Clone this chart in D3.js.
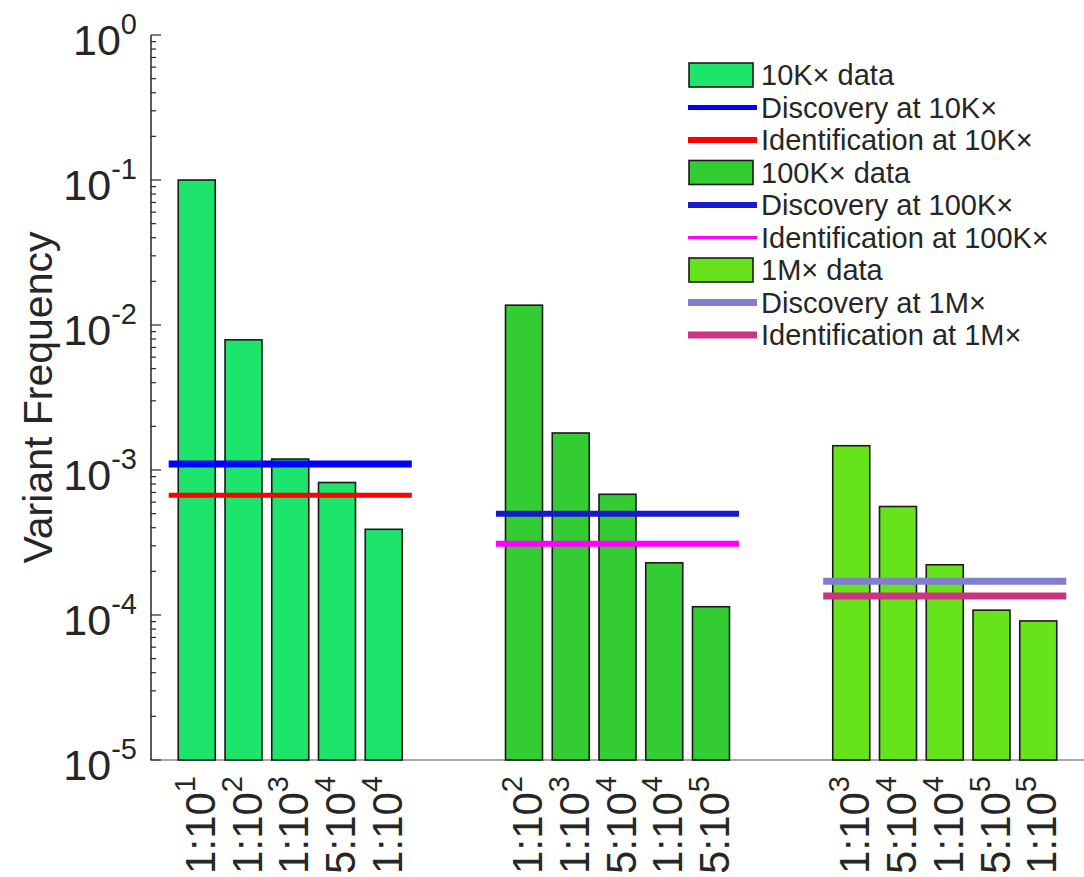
<!DOCTYPE html>
<html>
<head>
<meta charset="utf-8">
<script src="https://cdn.jsdelivr.net/npm/d3@7"></script>
<style>
  body { margin: 0; background: #fff; }
  svg text { font-family: "Liberation Sans", Arial, Helvetica, sans-serif; fill: #262626; }
</style>
</head>
<body>
<svg id="chart" width="1084" height="877"></svg>
<script>
// coverage groups
const groups = ["10K\u00d7", "100K\u00d7", "1M\u00d7"];

// dilution tick labels per group, as [mantissa part, exponent]
const dilutions10K = [["1:10", "1"], ["1:10", "2"], ["1:10", "3"], ["5:10", "4"], ["1:10", "4"]];
const dilutions100K = [["1:10", "2"], ["1:10", "3"], ["5:10", "4"], ["1:10", "4"], ["5:10", "5"]];
const dilutions1M = [["1:10", "3"], ["5:10", "4"], ["1:10", "4"], ["5:10", "5"], ["1:10", "5"]];

// observed variant frequency per dilution
const freq10K = [0.1, 0.0079, 0.00119, 0.00082, 0.00039];
const freq100K = [0.0137, 0.0018, 0.00068, 0.000229, 0.000114];
const freq1M = [0.00147, 0.00056, 0.000222, 0.000108, 0.000091];

// detection thresholds per group
const discovery = [0.0011, 0.0005, 0.000171];
const identification = [0.00067, 0.00031, 0.000135];

const yTickExps = ["0", "-1", "-2", "-3", "-4", "-5"];

const barColors = ["#1de46a", "#33cc33", "#66e31a"];
const discColors = ["#0000ff", "#1a1acc", "#7f7fcc"];
const identColors = ["#ff0000", "#ff00ff", "#cc3380"];

const svg = d3.select("#chart");

const y = d3.scaleLog().domain([1e-5, 1]).range([760, 35]);
// bar slots: 5 bars per group, 2 empty slots between groups
const x = d3.scaleLinear().domain([-1, 19]).range([150, 150 + 20 * 46.75]);
const barW = 37;

const allFreq = [freq10K, freq100K, freq1M];
const allDil = [dilutions10K, dilutions100K, dilutions1M];

const bars = [];
allFreq.forEach((arr, g) => arr.forEach((v, i) => bars.push({ g, i, pos: g * 7 + i, v, label: allDil[g][i] })));

// x axis baseline
svg.append("line")
  .attr("x1", x(-1)).attr("x2", 1084)
  .attr("y1", y(1e-5)).attr("y2", y(1e-5))
  .attr("stroke", "#8c8c8c").attr("stroke-width", 1.5);

// bars
svg.selectAll("rect.bar")
  .data(bars)
  .join("rect")
    .attr("class", "bar")
    .attr("x", d => x(d.pos) - barW / 2)
    .attr("width", barW)
    .attr("y", d => y(d.v))
    .attr("height", d => y(1e-5) - y(d.v))
    .attr("fill", d => barColors[d.g])
    .attr("stroke", "#1a1a1a")
    .attr("stroke-width", 1.6);

// threshold lines
const lineWidthsDisc = [7, 6, 7];
const lineWidthsIdent = [5, 6, 7];
groups.forEach((name, g) => {
  svg.append("line")
    .attr("x1", x(g * 7 - 0.6)).attr("x2", x(g * 7 + 4.6))
    .attr("y1", y(discovery[g])).attr("y2", y(discovery[g]))
    .attr("stroke", discColors[g]).attr("stroke-width", lineWidthsDisc[g]);
  svg.append("line")
    .attr("x1", x(g * 7 - 0.6)).attr("x2", x(g * 7 + 4.6))
    .attr("y1", y(identification[g])).attr("y2", y(identification[g]))
    .attr("stroke", identColors[g]).attr("stroke-width", lineWidthsIdent[g]);
});

// y axis
const yAxis = svg.append("g");
yAxis.append("line")
  .attr("x1", 151).attr("x2", 151)
  .attr("y1", y(1)).attr("y2", y(1e-5))
  .attr("stroke", "#262626").attr("stroke-width", 1.5);

const minor = [];
for (let e = -5; e < 0; e++) for (let m = 2; m <= 9; m++) minor.push(m * Math.pow(10, e));
yAxis.selectAll("line.minor")
  .data(minor)
  .join("line")
    .attr("class", "minor")
    .attr("x1", 151).attr("x2", 156)
    .attr("y1", d => y(d)).attr("y2", d => y(d))
    .attr("stroke", "#262626").attr("stroke-width", 1.2);

const major = yTickExps.map(e => Math.pow(10, +e));
yAxis.selectAll("line.major")
  .data(major)
  .join("line")
    .attr("class", "major")
    .attr("x1", 151).attr("x2", 161)
    .attr("y1", d => y(d)).attr("y2", d => y(d))
    .attr("stroke", "#262626").attr("stroke-width", 1.2);

const yLabels = yAxis.selectAll("text.ytick")
  .data(yTickExps)
  .join("text")
    .attr("class", "ytick")
    .attr("x", 137)
    .attr("y", d => y(Math.pow(10, +d)) + 20)
    .attr("text-anchor", "end")
    .style("font-size", "43px");
yLabels.append("tspan").text("10");
yLabels.append("tspan")
  .attr("dy", -21)
  .style("font-size", "29px")
  .text(d => d);

// y axis title
svg.append("text")
  .attr("transform", `translate(52,${(y(1) + y(1e-5)) / 2}) rotate(-90)`)
  .attr("text-anchor", "middle")
  .style("font-size", "41px")
  .text("Variant Frequency");

// x tick labels, rotated
const xLabels = svg.selectAll("text.xtick")
  .data(bars)
  .join("text")
    .attr("class", "xtick")
    .attr("transform", d => `translate(${x(d.pos) + 18},776) rotate(-90)`)
    .attr("text-anchor", "end")
    .style("font-size", "42px");
xLabels.append("tspan").text(d => d.label[0]);
xLabels.append("tspan")
  .attr("dy", -20)
  .style("font-size", "29px")
  .text(d => d.label[1]);

// legend
const legendItems = [];
groups.forEach((name, g) => {
  legendItems.push({ type: "box", color: barColors[g], text: name + " data" });
  legendItems.push({ type: "line", color: discColors[g], w: [5, 6, 7][g], text: "Discovery at " + name });
  legendItems.push({ type: "line", color: identColors[g], w: [6, 3, 7][g], text: "Identification at " + name });
});

const legend = svg.append("g");
const rowY = i => 75 + i * 32.5;
legendItems.forEach((d, i) => {
  if (d.type === "box") {
    legend.append("rect")
      .attr("x", 689).attr("y", rowY(i) - 12)
      .attr("width", 64).attr("height", 24)
      .attr("fill", d.color).attr("stroke", "#1a1a1a").attr("stroke-width", 1.6);
  } else {
    legend.append("line")
      .attr("x1", 688).attr("x2", 757)
      .attr("y1", rowY(i)).attr("y2", rowY(i))
      .attr("stroke", d.color).attr("stroke-width", d.w);
  }
  legend.append("text")
    .attr("x", 761).attr("y", rowY(i) + 10)
    .style("font-size", "29px")
    .text(d.text);
});
</script>
</body>
</html>
